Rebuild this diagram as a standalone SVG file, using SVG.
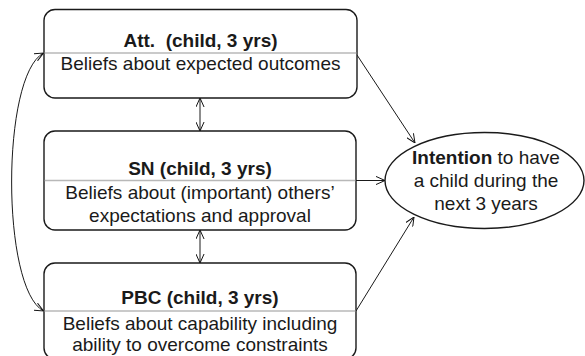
<svg xmlns="http://www.w3.org/2000/svg" width="585" height="356" viewBox="0 0 585 356">
  <defs>
    <marker id="arr" viewBox="0 0 10 10" refX="10" refY="5" markerWidth="9" markerHeight="9" markerUnits="userSpaceOnUse" orient="auto-start-reverse">
      <path d="M0,0.5 L10,5 L0,9.5" fill="none" stroke="#111" stroke-width="1.1"/>
    </marker>
    <style>
      .box { fill: #fff; stroke: #1a1a1a; stroke-width: 1.4; }
      .div { stroke: #b8b8b8; stroke-width: 1.4; }
      .t { font-family: "Liberation Sans", Arial, sans-serif; font-size: 19px; fill: #1a1a1a; text-anchor: middle; }
      .b { font-weight: bold; }
      .c { fill: none; stroke: #1a1a1a; stroke-width: 1; }
    </style>
  </defs>
  <rect width="585" height="356" fill="#fff"/>
  <g id="connectors">
    <line class="c" x1="357" y1="55" x2="415" y2="143" marker-end="url(#arr)"/>
    <line class="c" x1="356" y1="180.5" x2="385" y2="180.5" marker-end="url(#arr)"/>
    <line class="c" x1="356" y1="311" x2="414" y2="217" marker-end="url(#arr)"/>
    <line class="c" x1="200" y1="98" x2="200" y2="131" marker-start="url(#arr)" marker-end="url(#arr)"/>
    <line class="c" x1="200" y1="230" x2="200" y2="263" marker-start="url(#arr)" marker-end="url(#arr)"/>
    <path class="c" d="M43.5,53 C1,76 1,288 43.5,311" marker-start="url(#arr)" marker-end="url(#arr)"/>
  </g>
  <g id="att">
    <rect class="box" x="44" y="9.5" width="313" height="88.5" rx="11"/>
    <line class="div" x1="44.7" y1="53" x2="356.3" y2="53"/>
    <text class="t b" x="200.5" y="46.5" xml:space="preserve">Att.  (child, 3 yrs)</text>
    <text class="t" x="200.5" y="70">Beliefs about expected outcomes</text>
  </g>
  <g id="sn">
    <rect class="box" x="44" y="131" width="312" height="99" rx="11"/>
    <line class="div" x1="44.7" y1="180.5" x2="355.3" y2="180.5"/>
    <text class="t b" x="200" y="174.5">SN (child, 3 yrs)</text>
    <text class="t" x="200" y="198.5">Beliefs about (important) others’</text>
    <text class="t" x="200" y="221.5">expectations and approval</text>
  </g>
  <g id="pbc">
    <rect class="box" x="44" y="263" width="312" height="96" rx="11"/>
    <line class="div" x1="44.7" y1="311" x2="355.3" y2="311"/>
    <text class="t b" x="200" y="303.5">PBC (child, 3 yrs)</text>
    <text class="t" x="200" y="330">Beliefs about capability including</text>
    <text class="t" x="200" y="350.5">ability to overcome constraints</text>
  </g>
  <g id="intention">
    <ellipse class="box" cx="484.5" cy="180.5" rx="99.5" ry="48"/>
    <text class="t" x="486" y="163.5"><tspan class="b">Intention</tspan> to have</text>
    <text class="t" x="486" y="186.5">a child during the</text>
    <text class="t" x="486" y="210">next 3 years</text>
  </g>
</svg>
